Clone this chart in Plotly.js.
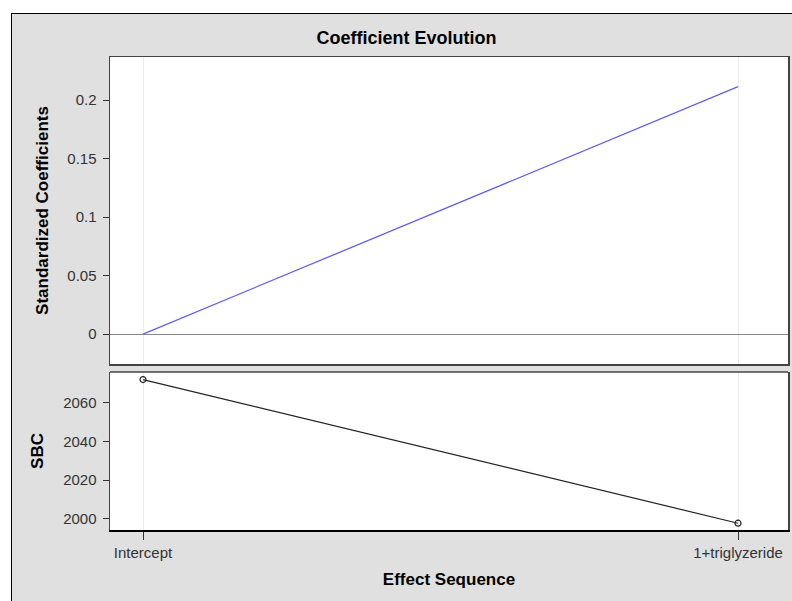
<!DOCTYPE html>
<html>
<head>
<meta charset="utf-8">
<script src="https://cdn.plot.ly/plotly-3.0.1.min.js"></script>
<style>
html,body{margin:0;padding:0;background:#fff;overflow:hidden;}
#wrap{position:relative;width:792px;height:601px;overflow:hidden;}
#frame{position:absolute;left:11px;top:13px;width:800px;height:600px;background:#e0e0e0;border-left:1px solid #000;border-top:1px solid #000;}
#chart{position:absolute;left:0;top:0;width:792px;height:601px;}
</style>
</head>
<body>
<div id="wrap"><div id="frame"></div><div id="chart"></div></div>
<script>
const steps = ["Intercept", "1+triglyzeride"];
const stepIndex = [0, 1];
const coefTriglyzeride = [0, 0.2114];
const sbcValues = [2071.9, 1997.8];
const coefTicks = [0, 0.05, 0.1, 0.15, 0.2];
const sbcTicks = [2000, 2020, 2040, 2060];

const W = 792, H = 601;
const L = 110, R = 4, T = 57, B = 71;
const ph = H - T - B;
const fy = y => (H - B - y) / ph;

const tickFont = {family: "Arial, Liberation Sans, sans-serif", size: 15, color: "#333"};
const titleFont = {family: "Arial, Liberation Sans, sans-serif", size: 17, color: "#000"};

const traces = [
  {x: stepIndex, y: coefTriglyzeride, xaxis: "x", yaxis: "y", type: "scatter", mode: "lines",
   line: {color: "#6060f0", width: 1.3}, hoverinfo: "skip", showlegend: false},
  {x: stepIndex, y: sbcValues, xaxis: "x2", yaxis: "y2", type: "scatter", mode: "lines+markers",
   line: {color: "#222", width: 1.2},
   marker: {symbol: "circle-open", size: 6, color: "#222", line: {width: 1.2, color: "#222"}},
   hoverinfo: "skip", showlegend: false}
];

const xr = [-0.0555, 1.084];
const layout = {
  width: W, height: H,
  margin: {l: L, r: R, t: T, b: B, pad: 0},
  paper_bgcolor: "rgba(0,0,0,0)",
  plot_bgcolor: "#fff",
  title: {text: "<b>Coefficient Evolution</b>", x: 406.5 / W, xanchor: "center", xref: "container",
          y: 1 - 38 / H, yanchor: "middle", yref: "container",
          font: {family: "Arial, Liberation Sans, sans-serif", size: 18, color: "#000"}},
  xaxis: {domain: [0, 1], anchor: "y", range: xr, tickvals: stepIndex, ticktext: steps,
          showticklabels: false, ticks: "", showgrid: true, gridcolor: "#ececec", gridwidth: 1,
          zeroline: false, showline: true, linecolor: "#444", linewidth: 1.5, mirror: true},
  yaxis: {domain: [fy(364), 1], anchor: "x", range: [-0.0256, 0.2368], tickvals: coefTicks,
          ticktext: coefTicks.map(String),
          ticks: "outside", ticklen: 6, tickcolor: "#333", tickfont: tickFont, ticklabelstandoff: 3,
          showgrid: false, zeroline: true, zerolinecolor: "#888", zerolinewidth: 1,
          showline: true, linecolor: "#444", linewidth: 1.5, mirror: true,
          title: {text: "<b>Standardized Coefficients</b>", font: titleFont, standoff: 14}},
  xaxis2: {domain: [0, 1], anchor: "y2", range: xr, tickvals: stepIndex, ticktext: steps,
           ticks: "outside", ticklen: 8, tickcolor: "#333", tickfont: tickFont,
           showgrid: true, gridcolor: "#ececec", gridwidth: 1, zeroline: false,
           showline: true, linecolor: "#000", linewidth: 2,
           title: {text: "<b>Effect Sequence</b>", font: titleFont, standoff: 13}},
  yaxis2: {domain: [0, fy(372)], anchor: "x2", range: [1994.3, 2075.8], tickvals: sbcTicks,
           ticktext: sbcTicks.map(String),
           ticks: "outside", ticklen: 6, tickcolor: "#333", tickfont: tickFont, ticklabelstandoff: 3,
           showgrid: false, zeroline: false,
           showline: true, linecolor: "#444", linewidth: 1.5, mirror: true,
           title: {text: "<b>SBC</b>", font: titleFont, standoff: 15}},
  shapes: [
    {type: "line", xref: "x2 domain", yref: "y2 domain", x0: 0, x1: 1, y0: 1, y1: 1,
     line: {color: "#444", width: 1.5}}
  ]
};

Plotly.newPlot("chart", traces, layout, {displayModeBar: false, staticPlot: true});
</script>
</body>
</html>
